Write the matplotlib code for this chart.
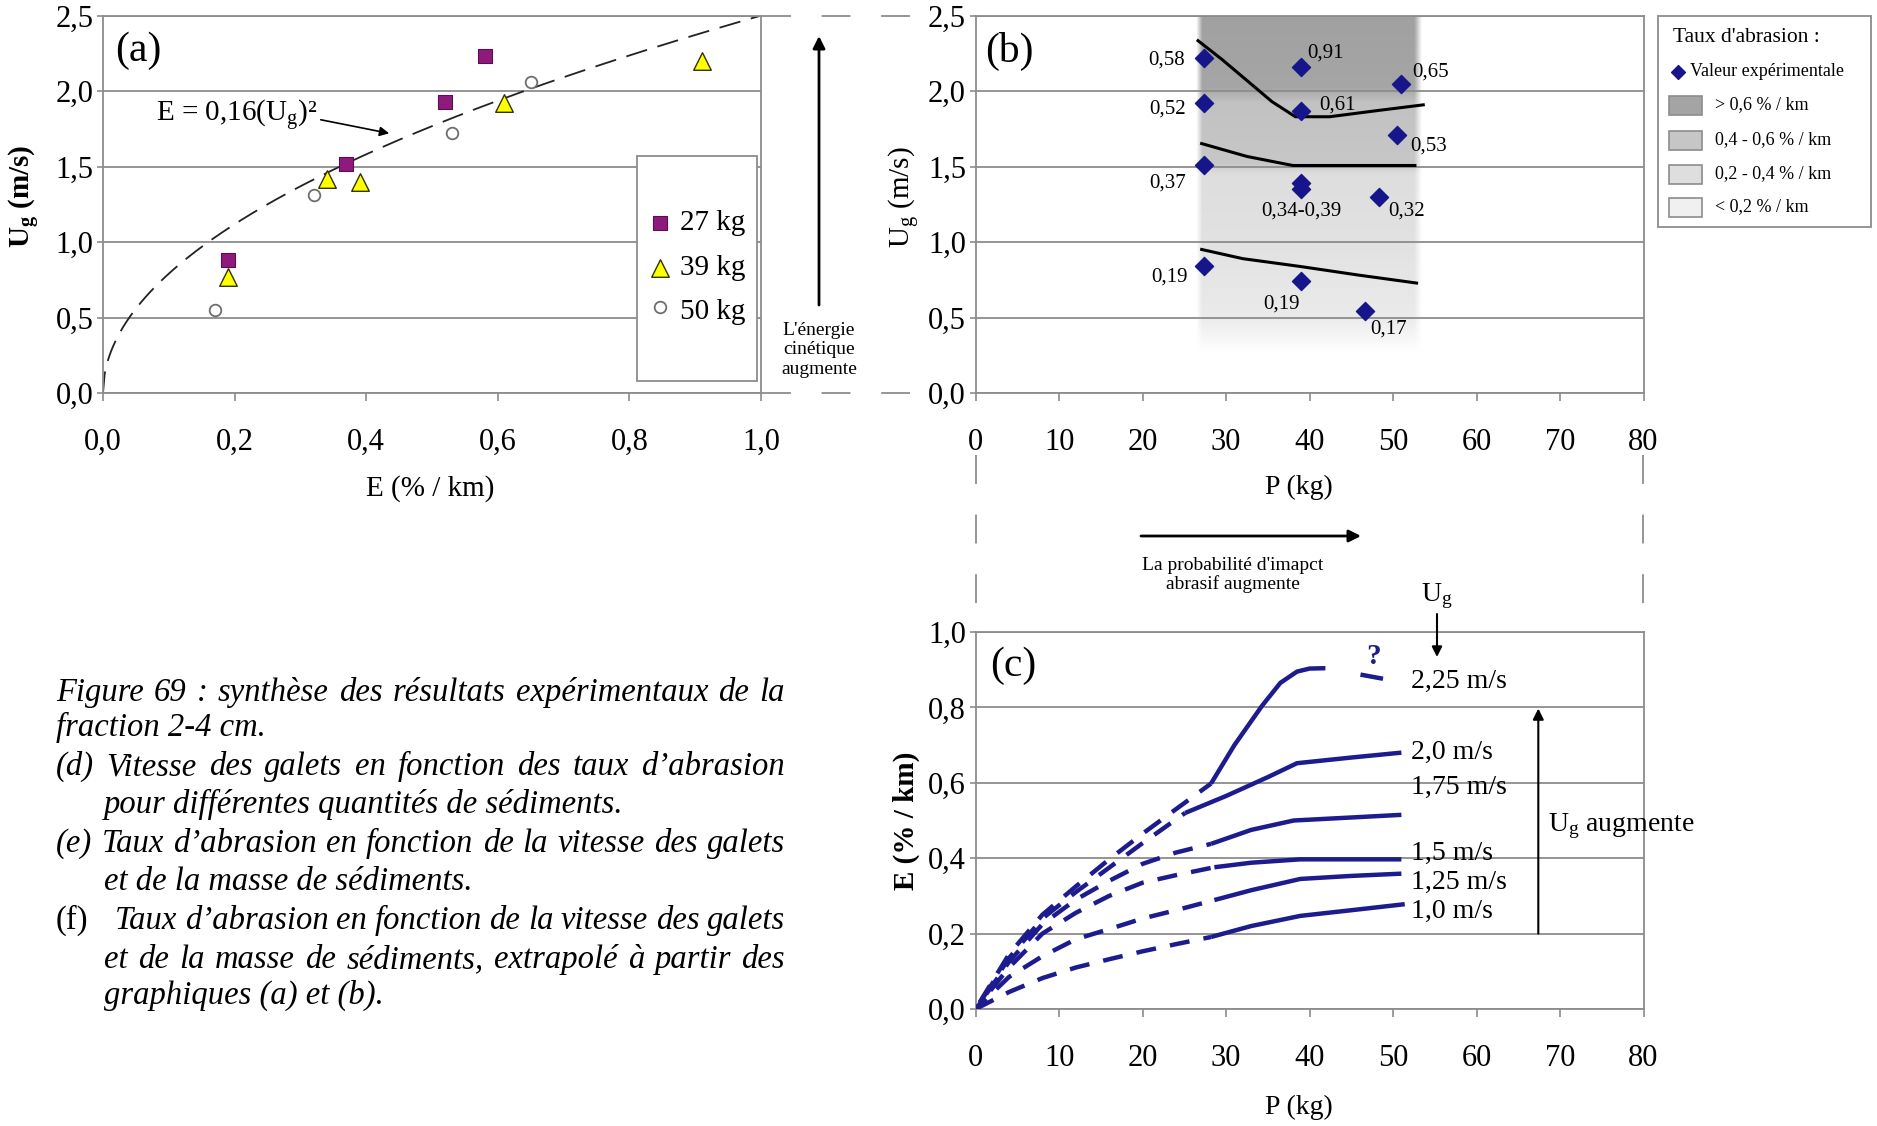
import numpy as np
import matplotlib
matplotlib.use('Agg')
import matplotlib.pyplot as plt
from matplotlib.patches import Rectangle
from matplotlib.font_manager import FontProperties

plt.rcParams['font.family'] = ['Liberation Serif', 'DejaVu Serif']
plt.rcParams['mathtext.fontset'] = 'custom'
plt.rcParams['mathtext.rm'] = 'Liberation Serif'
plt.rcParams['mathtext.it'] = 'Liberation Serif:italic'
plt.rcParams['mathtext.bf'] = 'Liberation Serif:bold'

# ------------------------------------------------------------------ data
# (a) Ug vs E for three sediment masses
E_27 = [0.19, 0.37, 0.52, 0.58]
Ug_27 = [0.88, 1.52, 1.93, 2.23]
E_39 = [0.19, 0.34, 0.39, 0.61, 0.91]
Ug_39 = [0.77, 1.42, 1.40, 1.92, 2.20]
E_50 = [0.17, 0.32, 0.53, 0.65]
Ug_50 = [0.55, 1.31, 1.72, 2.06]
fit_coef = 0.16          # E = 0,16 (Ug)^2
a_xticks = [0.0, 0.2, 0.4, 0.6, 0.8, 1.0]
a_yticks = [0.0, 0.5, 1.0, 1.5, 2.0, 2.5]

# (b) experimental values, P vs Ug, with abrasion rate labels
P_exp = [27.4, 27.4, 27.4, 27.4, 39.0, 39.0, 39.0, 39.0, 39.0, 50.9, 50.5, 48.3, 46.7]
Ug_exp = [2.22, 1.92, 1.51, 0.84, 2.16, 1.87, 1.39, 1.35, 0.74, 2.05, 1.71, 1.30, 0.54]
exp_labels = ['0,58', '0,52', '0,37', '0,19', '0,91', '0,61', '', '0,34-0,39', '0,19',
              '0,65', '0,53', '0,32', '0,17']
iso06_P = [26.5, 29.5, 32.5, 35.5, 38.3, 42.4, 48.0, 53.8]
iso06_Ug = [2.34, 2.21, 2.07, 1.93, 1.83, 1.83, 1.87, 1.91]
iso04_P = [26.9, 32.5, 38.0, 52.8]
iso04_Ug = [1.655, 1.567, 1.507, 1.507]
iso02_P = [26.9, 32.0, 38.9, 46.0, 53.0]
iso02_Ug = [0.953, 0.89, 0.838, 0.78, 0.727]
pb_xticks = [0, 10, 20, 30, 40, 50, 60, 70, 80]
b_legend_labels = ['> 0,6 % / km', '0,4 - 0,6 % / km', '0,2 - 0,4 % / km', '< 0,2 % / km']

# (c) extrapolated E vs P for each Ug (dashed = extrapolation, solid = measured range)
c_labels = ['1,0 m/s', '1,25 m/s', '1,5 m/s', '1,75 m/s', '2,0 m/s', '2,25 m/s']
u100_dash_P = [0, 4, 8, 12, 16, 20, 24, 28.2]
u100_dash_E = [0, 0.045, 0.082, 0.11, 0.132, 0.153, 0.172, 0.191]
u100_P = [28.2, 33, 38.9, 45, 51.4]
u100_E = [0.191, 0.22, 0.247, 0.262, 0.278]
u125_dash_P = [0, 4, 8, 12, 16, 20, 24, 28.6]
u125_dash_E = [0, 0.085, 0.14, 0.185, 0.212, 0.24, 0.262, 0.289]
u125_P = [28.6, 33, 38.9, 45, 51]
u125_E = [0.289, 0.315, 0.345, 0.353, 0.359]
u150_dash_P = [0, 4, 8, 12, 16, 20, 24, 28.6]
u150_dash_E = [0, 0.11, 0.2, 0.255, 0.30, 0.335, 0.355, 0.376]
u150_P = [28.6, 33, 38.9, 51]
u150_E = [0.376, 0.388, 0.397, 0.397]
u175_dash_P = [0, 4, 8, 12, 16, 20, 24, 28.2]
u175_dash_E = [0, 0.125, 0.225, 0.29, 0.34, 0.385, 0.415, 0.438]
u175_P = [28.2, 33, 38.1, 45, 51]
u175_E = [0.438, 0.475, 0.50, 0.508, 0.515]
u200_dash_P = [0, 4, 8, 12, 16, 20, 25.1]
u200_dash_E = [0, 0.135, 0.24, 0.31, 0.375, 0.44, 0.52]
u200_P = [25.1, 30, 35, 38.5, 45, 51]
u200_E = [0.52, 0.565, 0.615, 0.652, 0.667, 0.68]
u225_dash_P = [0, 4, 8, 12, 16, 20, 24, 28.2]
u225_dash_E = [0, 0.145, 0.25, 0.325, 0.397, 0.465, 0.53, 0.598]
u225_P = [28.2, 31, 34.3, 36.5, 38.5, 40, 41.9]
u225_E = [0.598, 0.70, 0.804, 0.865, 0.895, 0.903, 0.904]
u225_tail_P = [46.1, 48.8]
u225_tail_E = [0.887, 0.876]
c_yticks = [0.0, 0.2, 0.4, 0.6, 0.8, 1.0]

# ------------------------------------------------------------------ layout
W, H = 1877, 1126
fig = plt.figure(figsize=(W / 100, H / 100), dpi=100)


def rect(l, r, t, b):
    return [l / W, 1 - b / H, (r - l) / W, (b - t) / H]


axA = fig.add_axes(rect(103, 761, 15.6, 393))
axB = fig.add_axes(rect(975.6, 1643.5, 15.6, 393))
axC = fig.add_axes(rect(975.6, 1643.5, 632, 1009))
ov = fig.add_axes([0, 0, 1, 1], zorder=10)
ov.set_xlim(0, W)
ov.set_ylim(H, 0)
ov.axis('off')

GRID = '#8c8c8c'
NAVY = '#16168a'
BLUE = '#1c1c8e'


def fmt(v, nd):
    return f'{v:.{nd}f}'.replace('.', ',')


def style(ax, xlim, ylim, xt, yt, xnd, ynd):
    ax.set_xlim(xlim)
    ax.set_ylim(ylim)
    ax.set_xticks(xt)
    ax.set_xticklabels([fmt(v, xnd) for v in xt])
    ax.set_yticks(yt)
    ax.set_yticklabels([fmt(v, ynd) for v in yt])
    for s in ax.spines.values():
        s.set_color(GRID)
        s.set_linewidth(1.3)
    for y in yt:
        ax.axhline(y, color=GRID, lw=1.3, zorder=1)
    ax.tick_params(axis='x', direction='out', length=6, width=1.2, color=GRID,
                   pad=19, labelsize=22)
    ax.tick_params(axis='y', direction='out', length=4, width=1.2, color=GRID,
                   pad=3, labelsize=22)


# ------------------------------------------------------------------ (a)
style(axA, (0, 1), (0, 2.5), a_xticks, a_yticks, 1, 1)
E_fit = np.linspace(0, 1, 400)
axA.plot(E_fit, np.sqrt(E_fit / fit_coef), color='#222222', lw=1.3,
         ls=(0, (12, 6)), zorder=2)
sq = dict(marker='s', s=105, color='#8e1a7e', edgecolor='#5a0f50', linewidths=0.8)
tr = dict(marker='^', s=160, color='#ffff00', edgecolor='#333300', linewidths=1.0)
ci = dict(marker='o', s=70, facecolor='white', edgecolor='#6e6e6e', linewidths=1.3)
axA.scatter(E_27, Ug_27, zorder=4, **sq)
axA.scatter(E_39, Ug_39, zorder=4, **tr)
axA.scatter(E_50, Ug_50, zorder=4, **ci)

axA.text(0.053, 2.265, '(a)', fontsize=30, ha='center', va='center')
axA.text(0.08, 1.84, 'E = 0,16(U$_{\\rm g}$)²', fontsize=21, va='center')
axA.annotate('', xy=(0.435, 1.72), xytext=(0.331, 1.81),
             arrowprops=dict(arrowstyle='-|>', color='black', lw=1.2,
                             mutation_scale=14, shrinkA=0, shrinkB=0))

axA.add_patch(Rectangle((0.811, 0.032), 0.183, 0.597, transform=axA.transAxes,
                        facecolor='white', edgecolor=GRID, lw=1.3, zorder=5))
for (y, kw, lab) in [(0.451, sq, '27 kg'), (0.332, tr, '39 kg'), (0.215, ci, '50 kg')]:
    axA.scatter([0.846], [y + (0.012 if lab == '50 kg' else 0)], transform=axA.transAxes,
                zorder=6, clip_on=False, **kw)
    axA.text(0.877, y, lab, transform=axA.transAxes, fontsize=21, va='center', zorder=6)

axA.text(-0.12, 0.52, 'U$_{\\bf g}$ (m/s)', transform=axA.transAxes, rotation=90,
         fontsize=21, fontweight='bold', ha='center', va='center')
axA.text(0.498, -0.252, 'E (% / km)', transform=axA.transAxes, fontsize=21,
         ha='center', va='center')

# ------------------------------------------------------------------ (b)
style(axB, (0, 80), (0, 2.5), pb_xticks, a_yticks, 0, 1)
# background shading (vertical gradient of abrasion classes)
gy = np.linspace(0, 2.5, 500)
gx = np.linspace(24, 56, 320)
prof = np.interp(gy, [0.0, 0.27, 0.5, 1.0, 1.45, 1.52, 1.92, 2.02, 2.5],
                 [1.0, 1.0, 0.92, 0.885, 0.87, 0.78, 0.76, 0.65, 0.63])
mask = np.clip((gx - 26.4) / 0.7, 0, 1) * np.clip((53.4 - gx) / 0.9, 0, 1)
img = 1 - (1 - prof[:, None]) * mask[None, :]
axB.imshow(np.dstack([img, img, img]), extent=[24, 56, 0, 2.5], origin='lower',
           aspect='auto', interpolation='bilinear', zorder=0.5)
axB.set_xlim(0, 80)
axB.set_ylim(0, 2.5)
for P, U in [(iso06_P, iso06_Ug), (iso04_P, iso04_Ug), (iso02_P, iso02_Ug)]:
    axB.plot(P, U, color='black', lw=2.2, zorder=3, solid_capstyle='butt')
axB.scatter(P_exp, Ug_exp, marker='D', s=85, color=NAVY, zorder=4)
lab_off = [(-38, -2), (-37, -6), (-37, -18), (-35, -11), (24, 14), (36, 6), (0, 0),
           (0, -22), (-20, -23), (30, 11), (31, -11), (28, -14), (23, -18)]
for p, u, lab, off in zip(P_exp, Ug_exp, exp_labels, lab_off):
    if lab:
        axB.annotate(lab, (p, u), xytext=off, textcoords='offset pixels',
                     ha='center', va='center', fontsize=15, zorder=5)
axB.text(4.0, 2.265, '(b)', fontsize=30, ha='center', va='center')
axB.text(-0.106, 0.52, 'U$_{\\rm g}$ (m/s)', transform=axB.transAxes, rotation=90,
         fontsize=21, ha='center', va='center')
axB.text(0.484, -0.249, 'P (kg)', transform=axB.transAxes, fontsize=20,
         ha='center', va='center')

# ------------------------------------------------------------------ (c)
style(axC, (0, 80), (0, 1.0), pb_xticks, c_yticks, 0, 1)
curves = [(u100_dash_P, u100_dash_E, u100_P, u100_E),
          (u125_dash_P, u125_dash_E, u125_P, u125_E),
          (u150_dash_P, u150_dash_E, u150_P, u150_E),
          (u175_dash_P, u175_dash_E, u175_P, u175_E),
          (u200_dash_P, u200_dash_E, u200_P, u200_E),
          (u225_dash_P, u225_dash_E, u225_P, u225_E)]
for i, (dP, dE, sP, sE) in enumerate(curves):
    axC.plot(dP, dE, color=BLUE, lw=3.2, ls=(1.2 * i, (4.5, 3.2)), zorder=3,
             dash_capstyle='butt')
    axC.plot(sP, sE, color=BLUE, lw=3.2, zorder=3, solid_capstyle='butt')
axC.plot(u225_tail_P, u225_tail_E, color=BLUE, lw=3.2, zorder=3, solid_capstyle='butt')
axC.text(47.6, 0.935, '?', color=BLUE, fontsize=21, fontweight='bold',
         ha='center', va='center')
lab_y = [0.258, 0.335, 0.414, 0.588, 0.68, 0.868]
for lab, y in zip(c_labels, lab_y):
    axC.text(52.2, y, lab, fontsize=20, ha='left', va='center', zorder=4)
axC.annotate('', xy=(67.4, 0.797), xytext=(67.4, 0.2),
             arrowprops=dict(arrowstyle='-|>', color='black', lw=1.5,
                             mutation_scale=16, shrinkA=0, shrinkB=0))
axC.text(68.6, 0.485, 'U$_{\\rm g}$ augmente', fontsize=20, ha='left', va='center')
axC.text(4.5, 0.911, '(c)', fontsize=30, ha='center', va='center')
axC.text(-0.104, 0.50, 'E (% / km)', transform=axC.transAxes, rotation=90,
         fontsize=21, fontweight='bold', ha='center', va='center')
axC.text(0.484, -0.26, 'P (kg)', transform=axC.transAxes, fontsize=20,
         ha='center', va='center')

# ------------------------------------------------------------------ overlay annotations
dash_conn = dict(color=GRID, lw=1.3, ls=(0, (16, 17)))
for y in (15.6, 393):
    ov.plot([762, 910], [y, y], **dash_conn)
for x in (975.6, 1643.5):
    ov.plot([x, x], [455, 632], **dash_conn)

ov.annotate('', xy=(819, 36), xytext=(819, 305),
            arrowprops=dict(arrowstyle='-|>', color='black', lw=2.0,
                            mutation_scale=18, shrinkA=0, shrinkB=0))
ov.text(819, 350, "L'énergie\ncinétique\naugmente", fontsize=14, ha='center',
        va='center', linespacing=1.2)

ov.annotate('', xy=(1361, 536), xytext=(1141, 536),
            arrowprops=dict(arrowstyle='-|>', color='black', lw=2.0,
                            mutation_scale=18, shrinkA=0, shrinkB=0))
ov.text(1233, 575, "La probabilité d'imapct\nabrasif augmente", fontsize=14,
        ha='center', va='center', linespacing=1.15)

ov.text(1437, 596, 'U$_{\\rm g}$', fontsize=20, ha='center', va='center')
ov.annotate('', xy=(1437, 657), xytext=(1437, 614),
            arrowprops=dict(arrowstyle='-|>', color='black', lw=1.5,
                            mutation_scale=15, shrinkA=0, shrinkB=0))

# legend of (b)
ov.add_patch(Rectangle((1658, 15.6), 213, 211, facecolor='white', edgecolor=GRID, lw=1.3))
ov.text(1673, 38, "Taux d'abrasion :", fontsize=15.5, ha='left', va='center')
ov.scatter([1678], [72], marker='D', s=50, color=NAVY)
ov.text(1690, 72, 'Valeur expérimentale', fontsize=13, ha='left', va='center')
leg_cols = ['#a4a4a4', '#c6c6c6', '#dedede', '#f0f0f0']
for yc, col, lab in zip([105, 140, 174, 207], leg_cols, b_legend_labels):
    ov.add_patch(Rectangle((1669, yc - 9.5), 33, 19, facecolor=col, edgecolor=GRID, lw=1.2))
    ov.text(1715, yc, lab, fontsize=13, ha='left', va='center')

# ------------------------------------------------------------------ caption
fp_it = FontProperties(family='Liberation Serif', style='italic', size=23.5)
fp_rm = FontProperties(family='Liberation Serif', size=23.5)
renderer = fig.canvas.get_renderer()


def cap_line(text, x0, y, fp, x1=None):
    if x1 is None:
        ov.text(x0, y, text, fontproperties=fp, ha='left', va='baseline')
        return
    words = text.split(' ')
    ts = [ov.text(0, y, w, fontproperties=fp, ha='left', va='baseline') for w in words]
    widths = [t.get_window_extent(renderer).width for t in ts]
    gap = (x1 - x0 - sum(widths)) / (len(words) - 1)
    x = x0
    for t, w in zip(ts, widths):
        t.set_x(x)
        x += w + gap


XR = 785
cap_line('Figure 69 : synthèse des résultats expérimentaux de la', 56, 701, fp_it, XR)
cap_line('fraction 2-4 cm.', 56, 736, fp_it)
cap_line('(d) Vitesse des galets en fonction des taux d’abrasion', 56, 775, fp_it, XR)
cap_line('pour différentes quantités de sédiments.', 104, 813, fp_it)
cap_line('(e) Taux d’abrasion en fonction de la vitesse des galets', 56, 852, fp_it, XR)
cap_line('et de la masse de sédiments.', 104, 890, fp_it)
cap_line('(f)', 56, 929, fp_rm)
cap_line('Taux d’abrasion en fonction de la vitesse des galets', 115, 929, fp_it, XR)
cap_line('et de la masse de sédiments, extrapolé à partir des', 104, 968, fp_it, XR)
cap_line('graphiques (a) et (b).', 104, 1004, fp_it)

fig.savefig('out.png', dpi=100, facecolor='white')
